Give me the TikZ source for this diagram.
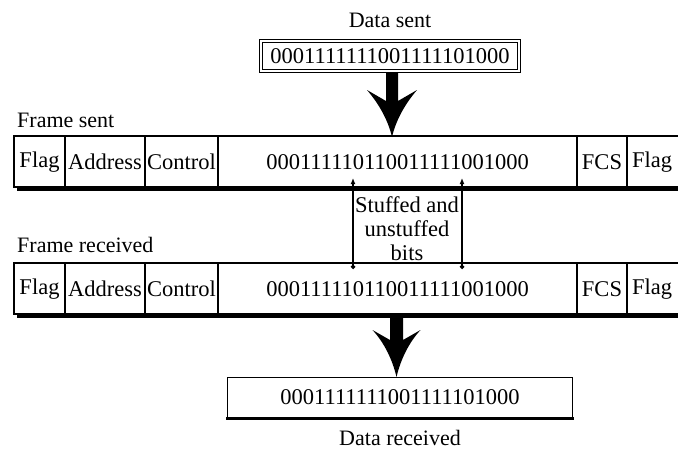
\documentclass[tikz,border=0pt]{standalone}
\usepackage{fontspec}
\setmainfont{Liberation Serif}
\usetikzlibrary{arrows.meta}
\begin{document}
\begin{tikzpicture}[x=1pt,y=-1pt,
  txt/.style={inner sep=0pt, font=\fontsize{22.5}{24}\selectfont},
  lbl/.style={inner sep=0pt, font=\fontsize{22}{24}\selectfont},
  frameline/.style={line width=1.4pt},
  marker/.style={line width=1.2pt, {Latex[length=6pt,width=5pt]}-{Circle[length=4.5pt]}}]
\useasboundingbox (0,0) rectangle (678,450);
\clip (0,0) rectangle (678,450);
\fill[white] (0,0) rectangle (678,450);

% data sent
\node[lbl] (dslabel) at (390,20) {Data sent};
\node[txt, draw, line width=1.2pt, double, double distance=1.8pt, minimum width=258, minimum height=30] (ds) at (390,56) {0001111111001111101000};

% frames
\foreach \nm/\t in {fs/136, fr/263}{
  \fill (17,\t+4) rectangle (684,\t+55);
  \filldraw[fill=white, frameline] (14,\t) rectangle (684,\t+51);
  \foreach \xx in {65,145,218,577,627} \draw[frameline] (\xx,\t) -- (\xx,\t+51);
  \node[txt] (\nm-flagl) at (39.5,\t+26) {Flag};
  \node[txt] (\nm-addr) at (105,\t+26) {Address};
  \node[txt] (\nm-ctrl) at (181.5,\t+26) {Control};
  \node[txt] (\nm-data) at (397.5,\t+26) {000111110110011111001000};
  \node[txt] (\nm-fcs) at (602,\t+26) {FCS};
  \node[txt] (\nm-flagr) at (652,\t+26) {Flag};
}
\node[lbl, anchor=west] (fslabel) at (17,120) {Frame sent};
\node[lbl, anchor=west] (frlabel) at (17,245) {Frame received};

% big arrow 1
\begin{scope}[shift={(392,73)}]
\fill (-6,0) -- (-6,28) -- (-25,17) .. controls (-13,31) and (-4,47) .. (0,64)
  .. controls (4,47) and (13,31) .. (25,17) -- (6,28) -- (6,0) -- cycle;
\end{scope}

% stuffed / unstuffed markers
\coordinate (m1t) at (353,178);
\coordinate (m1b) at (353,269);
\coordinate (m2t) at (462,178);
\coordinate (m2b) at (462,269);
\draw[marker] (m1t) -- (m1b);
\draw[marker] (m2t) -- (m2b);
\node[txt, align=center] (stf) at (407,229) {Stuffed and\\unstuffed\\bits};

% big arrow 2
\begin{scope}[shift={(396.5,316)}]
\fill (-6.5,0) -- (-6.5,24) -- (-24,14) .. controls (-12,27) and (-4,44) .. (0,61)
  .. controls (4,44) and (12,27) .. (24,14) -- (6.5,24) -- (6.5,0) -- cycle;
\end{scope}

% data received
\node[txt, draw, line width=1.4pt, minimum width=345, minimum height=40] (dr) at (400,397.5) {0001111111001111101000};
\draw[line width=2.6pt] ([xshift=-0.7pt]dr.south west) -- ([xshift=0.7pt]dr.south east);
\node[lbl] (drlabel) at (400,438) {Data received};
\end{tikzpicture}
\end{document}
